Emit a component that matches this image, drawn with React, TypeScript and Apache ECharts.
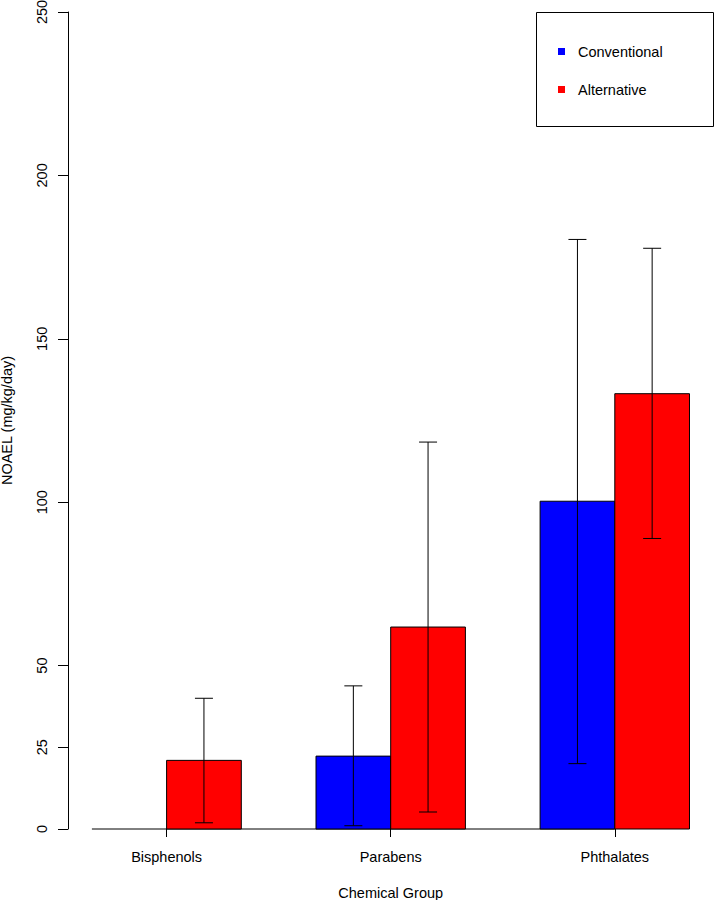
import React, { useEffect, useRef } from "react";
import * as echarts from "echarts";

const categories = ["Bisphenols", "Parabens", "Phthalates"];
const conventionalMean = [0, 22.3, 100.3];
const conventionalLow: (number | null)[] = [null, 1.0, 20.0];
const conventionalHigh: (number | null)[] = [null, 43.8, 180.4];
const alternativeMean = [21.0, 61.8, 133.2];
const alternativeLow = [1.9, 5.2, 88.9];
const alternativeHigh = [40.0, 118.4, 177.7];
const yTicks = [0, 25, 50, 100, 150, 200, 250];

const FONT = "'Liberation Sans', Arial, Helvetica, sans-serif";
const FS = 14.5;
const groupCenter = (i: number) => 2 + 3 * i;
const groupCenters = categories.map((_, i) => groupCenter(i));

function buildData(mean: number[], low: (number | null)[], high: (number | null)[], offset: number) {
  return categories.map((_, i) => [
    groupCenter(i) + offset,
    mean[i],
    low[i] == null ? NaN : low[i],
    high[i] == null ? NaN : high[i],
  ]);
}

function makeRender(color: string) {
  return (params: any, api: any) => {
    const x = api.value(0);
    const m = api.value(1);
    const lo = api.value(2);
    const hi = api.value(3);
    const tl = api.coord([x - 0.5, m]);
    const br = api.coord([x + 0.5, 0]);
    const children: any[] = [];
    if (m > 0) {
      children.push({
        type: "rect",
        shape: { x: tl[0], y: tl[1], width: br[0] - tl[0], height: br[1] - tl[1] },
        style: { fill: color, stroke: "#000", lineWidth: 1 },
      });
    } else {
      children.push({
        type: "line",
        shape: { x1: tl[0], y1: br[1], x2: br[0], y2: br[1] },
        style: { stroke: "#000", lineWidth: 1 },
      });
    }
    if (!isNaN(lo) && !isNaN(hi)) {
      const pLo = api.coord([x, lo]);
      const pHi = api.coord([x, hi]);
      const cap = 9;
      children.push(
        { type: "line", shape: { x1: pLo[0], y1: pLo[1], x2: pHi[0], y2: pHi[1] }, style: { stroke: "#000", lineWidth: 1 } },
        { type: "line", shape: { x1: pLo[0] - cap, y1: pLo[1], x2: pLo[0] + cap, y2: pLo[1] }, style: { stroke: "#000", lineWidth: 1 } },
        { type: "line", shape: { x1: pHi[0] - cap, y1: pHi[1], x2: pHi[0] + cap, y2: pHi[1] }, style: { stroke: "#000", lineWidth: 1 } }
      );
    }
    return { type: "group", children };
  };
}

export default function App() {
  const ref = useRef<HTMLDivElement>(null);
  useEffect(() => {
    if (!ref.current) return;
    const chart = echarts.init(ref.current, null, { renderer: "svg" });
    chart.setOption({
      animation: false,
      backgroundColor: "#ffffff",
      textStyle: { fontFamily: FONT },
      grid: { left: 68, top: 12, right: 1.6, bottom: 71, containLabel: false, outerBoundsMode: "none" },
      legend: {
        data: [
          { name: "Conventional", icon: "rect" },
          { name: "Alternative", icon: "rect" },
        ],
        orient: "vertical",
        left: 553,
        top: 39,
        itemWidth: 7,
        itemHeight: 7,
        itemGap: 23,
        textStyle: { fontSize: FS, color: "#000", fontFamily: FONT, padding: [0, 0, 0, 8] },
      },
      graphic: [
        {
          type: "rect",
          shape: { x: 536.5, y: 12.5, width: 177, height: 114 },
          style: { fill: "none", stroke: "#000", lineWidth: 1 },
        },
      ],
      xAxis: {
        type: "value",
        min: 0.68,
        max: 9.32,
        name: "Chemical Group",
        nameLocation: "middle",
        nameGap: 56,
        nameTextStyle: { fontSize: FS, color: "#000", fontFamily: FONT },
        axisLine: { show: false },
        splitLine: { show: false },
        axisTick: { show: true, customValues: groupCenters, length: 8, lineStyle: { color: "#000" } },
        axisLabel: {
          customValues: groupCenters,
          formatter: (v: number) => categories[Math.round((v - 2) / 3)] ?? "",
          margin: 20,
          fontSize: FS,
          color: "#000",
          fontFamily: FONT,
        },
      },
      yAxis: {
        type: "value",
        min: 0,
        max: 250,
        name: "NOAEL (mg/kg/day)",
        nameLocation: "middle",
        nameRotate: 90,
        nameGap: 54,
        nameTextStyle: { fontSize: FS, color: "#000", fontFamily: FONT },
        axisLine: { show: true, lineStyle: { color: "#000" } },
        splitLine: { show: false },
        axisTick: { show: true, customValues: yTicks, length: 10, lineStyle: { color: "#000" } },
        axisLabel: {
          customValues: yTicks,
          rotate: 90,
          margin: 19,
          fontSize: FS,
          color: "#000",
          fontFamily: FONT,
        },
      },
      series: [
        {
          name: "baseline",
          type: "custom",
          silent: true,
          z: 1,
          data: [[groupCenters[0], 0, groupCenters[groupCenters.length - 1]]],
          renderItem: (params: any, api: any) => {
            const a = api.coord([api.value(0), 0]);
            const b = api.coord([api.value(2), 0]);
            return {
              type: "line",
              shape: { x1: a[0], y1: a[1], x2: b[0], y2: b[1] },
              style: { stroke: "#000", lineWidth: 1 },
            };
          },
        },
        {
          name: "Conventional",
          type: "custom",
          z: 2,
          itemStyle: { color: "#0000ff" },
          data: buildData(conventionalMean, conventionalLow, conventionalHigh, -0.5),
          renderItem: makeRender("#0000ff"),
        },
        {
          name: "Alternative",
          type: "custom",
          z: 2,
          itemStyle: { color: "#ff0000" },
          data: buildData(alternativeMean, alternativeLow, alternativeHigh, 0.5),
          renderItem: makeRender("#ff0000"),
        },
      ],
    });
    return () => chart.dispose();
  }, []);
  return (
    <div
      ref={ref}
      style={{ position: "fixed", left: 0, top: 0, width: 715, height: 900, background: "#fff" }}
    />
  );
}
